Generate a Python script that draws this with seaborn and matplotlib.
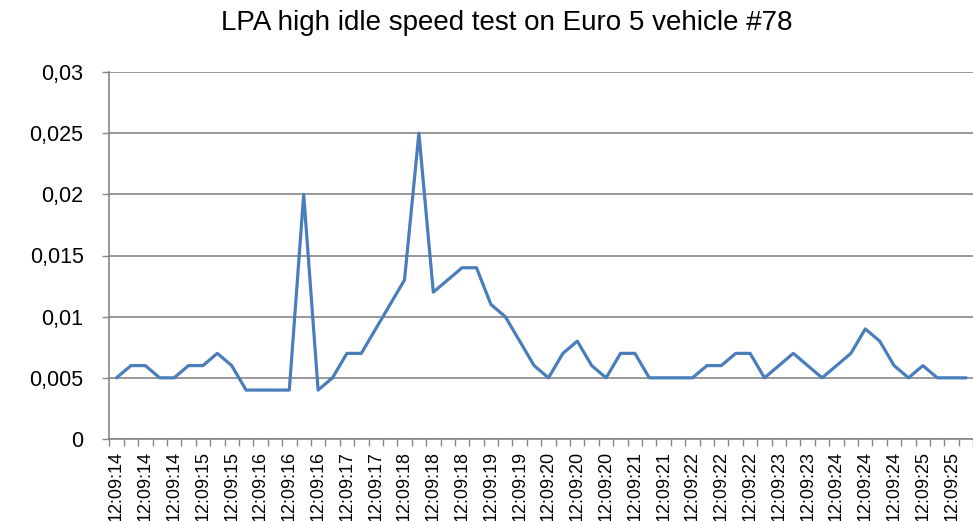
import matplotlib
matplotlib.use("Agg")
import matplotlib.pyplot as plt
from matplotlib.ticker import FixedLocator, FuncFormatter
import seaborn as sns
import pandas as pd
import numpy as np

title = "LPA high idle speed test on Euro 5 vehicle #78"

values = [
    0.005, 0.006, 0.006, 0.005, 0.005, 0.006, 0.006, 0.007, 0.006, 0.004,
    0.004, 0.004, 0.004, 0.020, 0.004, 0.005, 0.007, 0.007, 0.009, 0.011,
    0.013, 0.025, 0.012, 0.013, 0.014, 0.014, 0.011, 0.010, 0.008, 0.006,
    0.005, 0.007, 0.008, 0.006, 0.005, 0.007, 0.007, 0.005, 0.005, 0.005,
    0.005, 0.006, 0.006, 0.007, 0.007, 0.005, 0.006, 0.007, 0.006, 0.005,
    0.006, 0.007, 0.009, 0.008, 0.006, 0.005, 0.006, 0.005, 0.005, 0.005,
]

tick_labels = [
    "12:09:14", "12:09:14", "12:09:14", "12:09:15", "12:09:15",
    "12:09:16", "12:09:16", "12:09:16", "12:09:17", "12:09:17",
    "12:09:18", "12:09:18", "12:09:18", "12:09:19", "12:09:19",
    "12:09:20", "12:09:20", "12:09:20", "12:09:21", "12:09:21",
    "12:09:22", "12:09:22", "12:09:22", "12:09:23", "12:09:23",
    "12:09:24", "12:09:24", "12:09:24", "12:09:25", "12:09:25",
]

y_ticks = [0, 0.005, 0.01, 0.015, 0.02, 0.025, 0.03]

sns.set_theme(style="white")
plt.rcParams["font.family"] = ["Liberation Sans", "DejaVu Sans"]

n = len(values)
df = pd.DataFrame({"pos": np.arange(n) + 0.5, "value": values})

W, H = 973, 521
fig = plt.figure(figsize=(W / 100, H / 100), dpi=100)
ax = fig.add_axes([109.3 / W, (H - 439) / H, 864 / W, 367 / H])

grid_c = "#868686"
sns.lineplot(data=df, x="pos", y="value", ax=ax, color="#4a7ebb",
             linewidth=2.3, zorder=3)

ax.set_xlim(0, n)
ax.set_ylim(0, 0.03)
ax.set_yticks(y_ticks)
ax.yaxis.set_major_formatter(FuncFormatter(
    lambda v, p: "0" if v == 0 else ("%g" % v).replace(".", ",")))
ax.grid(axis="y", color=grid_c, linewidth=1.2)
ax.grid(axis="x", visible=False)

label_pos = [i + 0.5 for i in range(0, n, 2)]
ax.set_xticks(label_pos)
ax.set_xticklabels(tick_labels, rotation=90, fontsize=13, va="top", ha="center")
ax.xaxis.set_minor_locator(FixedLocator(list(range(0, n + 1))))
ax.tick_params(axis="x", which="major", length=0, pad=8.5)
ax.tick_params(axis="x", which="minor", length=5, width=1, color=grid_c,
               bottom=True, direction="out")
ax.tick_params(axis="y", which="major", length=5, width=1, color=grid_c,
               labelsize=15.5, pad=13.5, left=True, direction="out")
for lab in ax.get_xticklabels() + ax.get_yticklabels():
    lab.set_color("black")

ax.set_xlabel("")
ax.set_ylabel("")
for s in ["top", "right"]:
    ax.spines[s].set_visible(False)
for s in ["left", "bottom"]:
    ax.spines[s].set_color(grid_c)
    ax.spines[s].set_linewidth(1.2)

fig.text(507 / W, 1 - 23 / H, title, ha="center", va="center",
         fontsize=20, color="black")

fig.savefig("out.png", dpi=100)
